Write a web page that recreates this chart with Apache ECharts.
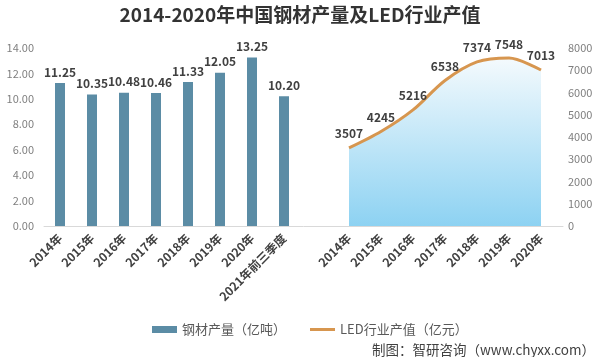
<!DOCTYPE html>
<html><head><meta charset="utf-8">
<script src="https://cdn.jsdelivr.net/npm/echarts@6/dist/echarts.min.js"></script>
<style>html,body{margin:0;padding:0;background:#fff}#c{width:600px;height:357px}</style>
</head><body><div id="c"></div>
<script>
const titleText = '2014-2020年中国钢材产量及LED行业产值';
const steelCategories = ['2014年','2015年','2016年','2017年','2018年','2019年','2020年','2021年前三季度'];
const steelValues = [11.25, 10.35, 10.48, 10.46, 11.33, 12.05, 13.25, 10.20];
const ledCategories = ['2014年','2015年','2016年','2017年','2018年','2019年','2020年'];
const ledValues = [3507, 4245, 5216, 6538, 7374, 7548, 7013];
const steelTicks = {min: 0, max: 14, interval: 2};
const ledTicks = {min: 0, max: 8000, interval: 1000};
const steelName = '钢材产量（亿吨）';
const ledName = 'LED行业产值（亿元）';
const sourceText = '制图：智研咨询（www.chyxx.com）';

const FONT = '"Noto Sans CJK SC", "Microsoft YaHei", sans-serif';
const chart = echarts.init(document.getElementById('c'), null, {renderer: 'canvas'});
chart.setOption({
  animation: false,
  backgroundColor: '#ffffff',
  textStyle: {fontFamily: FONT},
  title: [
    {text: titleText, left: 'center', top: 0,
     textStyle: {fontSize: 19, fontWeight: 'bold', color: '#333333', fontFamily: FONT}},
    {text: sourceText, right: 0, top: 338,
     textStyle: {fontSize: 13.5, fontWeight: 'normal', color: '#404040', fontFamily: FONT}}
  ],
  legend: [
    {data: [steelName], left: 147, top: 318, itemWidth: 25, itemHeight: 7, icon: 'rect', itemGap: 2,
     textStyle: {fontSize: 13, color: '#595959', fontFamily: FONT}},
    {data: [ledName], left: 305, top: 318, itemWidth: 25, itemHeight: 3, icon: 'rect',
     textStyle: {fontSize: 13, color: '#595959', fontFamily: FONT}}
  ],
  grid: [
    {left: 44, right: 300, top: 48, bottom: 131},
    {left: 333, right: 43, top: 48, bottom: 131},
    {left: 44, right: 37, top: 48, bottom: 131}
  ],
  xAxis: [
    {type: 'category', gridIndex: 0, data: steelCategories,
     axisLine: {show: false}, axisTick: {show: false},
     axisLabel: {rotate: 45, interval: 0, margin: 10, fontSize: 12, fontWeight: 'bold', color: '#404040', fontFamily: FONT}},
    {type: 'category', gridIndex: 1, data: ledCategories, boundaryGap: true,
     axisLine: {show: false}, axisTick: {show: false},
     axisLabel: {rotate: 45, interval: 0, margin: 10, fontSize: 12, fontWeight: 'bold', color: '#404040', fontFamily: FONT}},
    {type: 'value', gridIndex: 2, min: 0, max: 1, show: true,
     axisLine: {show: true, lineStyle: {color: '#d9d9d9', width: 1}},
     axisTick: {show: false}, axisLabel: {show: false}, splitLine: {show: false}}
  ],
  yAxis: [
    {type: 'value', gridIndex: 0, min: steelTicks.min, max: steelTicks.max, interval: steelTicks.interval,
     axisLine: {show: false}, axisTick: {show: false}, splitLine: {show: false},
     axisLabel: {margin: 10, fontSize: 11, color: '#7f7f7f', formatter: v => v.toFixed(2), fontFamily: FONT}},
    {type: 'value', gridIndex: 1, position: 'right', min: ledTicks.min, max: ledTicks.max, interval: ledTicks.interval,
     axisLine: {show: false}, axisTick: {show: false}, splitLine: {show: false},
     axisLabel: {margin: 11, fontSize: 11, color: '#7f7f7f', formatter: v => String(v), fontFamily: FONT}},
    {type: 'value', gridIndex: 2, show: false, min: 0, max: 1}
  ],
  series: [
    {name: steelName, type: 'bar', xAxisIndex: 0, yAxisIndex: 0, data: steelValues,
     barWidth: 10, itemStyle: {color: '#5b8ca5'},
     label: {show: true, position: 'top', distance: 5, fontSize: 12, fontWeight: 'bold', color: '#404040',
             formatter: p => p.value.toFixed(2), fontFamily: FONT}},
    {name: ledName, type: 'line', xAxisIndex: 1, yAxisIndex: 1, data: ledValues,
     smooth: 0.3, symbol: 'circle', symbolSize: 0.1, showSymbol: true, z: 3,
     lineStyle: {color: '#d7964f', width: 3},
     itemStyle: {color: '#d7964f'},
     areaStyle: {color: new echarts.graphic.LinearGradient(0, 0, 0, 1, [
       {offset: 0, color: '#f4fafd'}, {offset: 1, color: '#8dd2f2'}]), opacity: 1},
     label: {show: true, position: 'top', distance: 8, fontSize: 12, fontWeight: 'bold', color: '#404040', fontFamily: FONT}}
  ]
});
</script></body></html>
